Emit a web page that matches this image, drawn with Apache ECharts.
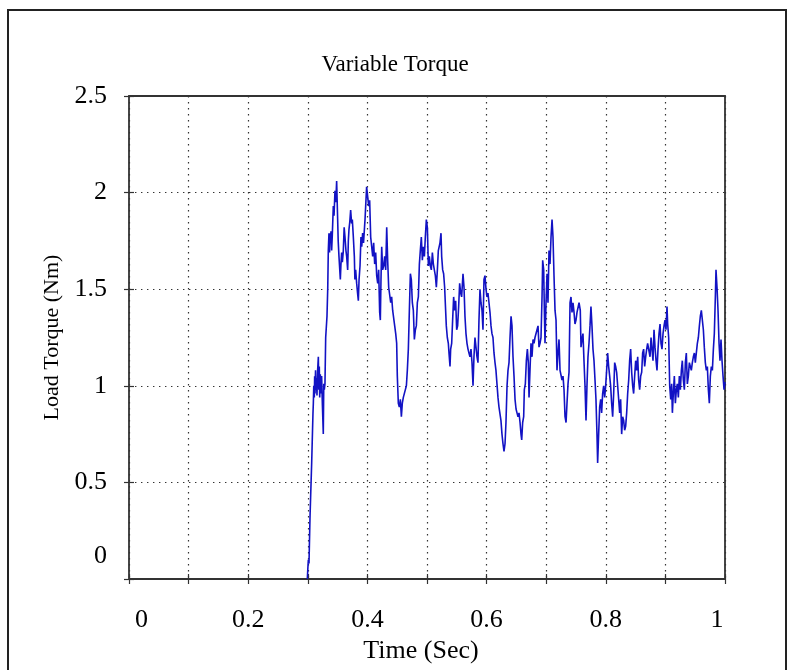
<!DOCTYPE html>
<html>
<head>
<meta charset="utf-8">
<script src="https://cdn.jsdelivr.net/npm/echarts@6/dist/echarts.min.js"></script>
<style>
  html, body { margin: 0; padding: 0; background: #fff; }
  #chart { width: 790px; height: 670px; }
</style>
</head>
<body>
<div id="chart"></div>
<script>
// Load torque samples [time (s), torque (Nm)], split into stretches of the run.
const onsetSamples = [
  [0.2992,0],[0.3000,0.05],[0.3009,0.10],[0.3020,0.08],[0.3037,0.32],[0.3065,0.60],[0.3087,0.86],[0.3093,0.91],
  [0.3100,1.00],[0.3109,0.94],[0.3115,1.05],[0.3121,0.96],[0.3130,1.08],[0.3137,0.98],[0.3145,1.04],[0.3154,0.95],
  [0.3165,1.08],[0.3177,1.15],[0.3185,0.98],[0.3193,1.10],[0.3200,0.94],[0.3210,1.06],[0.3220,0.96],[0.3232,1.05],
  [0.3245,0.90],[0.3260,0.75],[0.3268,1.01],[0.3277,0.98],[0.3288,1.01],[0.3300,1.25],[0.3322,1.36],[0.3335,1.51],
  [0.3344,1.70],[0.3355,1.79],[0.3365,1.69],[0.3372,1.79],[0.3380,1.74],[0.3389,1.80],[0.3400,1.70],[0.3411,1.78],
  [0.3428,1.93],[0.3440,1.88],[0.3456,2.01],[0.3470,1.95],[0.3484,2.06],[0.3501,1.86],[0.3510,1.75],[0.3523,1.67],
  [0.3546,1.55],[0.3555,1.62],[0.3568,1.69],[0.3580,1.64],[0.3596,1.70],[0.3610,1.82],[0.3624,1.77],[0.3640,1.70],
  [0.3652,1.67],[0.3669,1.60],[0.3680,1.75],[0.3691,1.81],[0.3705,1.85],[0.3719,1.91],[0.3735,1.84],[0.3747,1.86],
  [0.3764,1.77],[0.3781,1.67],[0.3790,1.55],[0.3803,1.60],[0.3820,1.53],[0.3835,1.48],[0.3848,1.44],[0.3860,1.55],
  [0.3876,1.62],[0.3892,1.77],[0.3905,1.72],[0.3920,1.79],[0.3935,1.74],[0.3948,1.74],[0.3960,1.86],[0.3971,1.93],
  [0.3987,2.03]
];
const samples040to052 = [
  [0.4005,2.04],[0.4022,1.93],[0.4038,1.96],[0.4055,1.77],[0.4072,1.72],[0.4089,1.67],[0.4105,1.74],[0.4122,1.63],
  [0.4139,1.69],[0.4156,1.57],[0.4173,1.53],[0.4189,1.60],[0.4206,1.38],[0.4217,1.34],[0.4228,1.55],[0.4240,1.72],
  [0.4256,1.60],[0.4273,1.62],[0.4290,1.67],[0.4307,1.60],[0.4324,1.82],[0.4340,1.65],[0.4357,1.51],[0.4374,1.50],
  [0.4391,1.43],[0.4407,1.46],[0.4424,1.39],[0.4441,1.38],[0.4458,1.31],[0.4475,1.27],[0.4491,1.22],[0.4502,1.05],
  [0.4519,0.91],[0.4536,0.89],[0.4553,0.93],[0.4570,0.84],[0.4586,0.91],[0.4603,0.94],[0.4620,0.93],[0.4637,0.98],
  [0.4654,1.00],[0.4670,1.08],[0.4687,1.19],[0.4704,1.39],[0.4721,1.58],[0.4737,1.55],[0.4754,1.43],[0.4771,1.39],
  [0.4788,1.24],[0.4805,1.29],[0.4821,1.31],[0.4838,1.43],[0.4855,1.46],[0.4872,1.63],[0.4888,1.70],[0.4905,1.77],
  [0.4922,1.65],[0.4939,1.72],[0.4956,1.67],[0.4972,1.77],[0.4989,1.86],[0.5006,1.82],[0.5023,1.62],[0.5039,1.67],
  [0.5056,1.62],[0.5073,1.60],[0.5090,1.69],[0.5107,1.63],[0.5123,1.60],[0.5140,1.57],[0.5157,1.51],[0.5174,1.60],
  [0.5190,1.70],[0.5207,1.69]
];
const samples052to063 = [
  [0.5218,1.74],[0.5235,1.79],[0.5246,1.67],[0.5263,1.60],[0.5279,1.58],[0.5296,1.51],[0.5307,1.43],[0.5324,1.31],
  [0.5341,1.25],[0.5358,1.22],[0.5369,1.17],[0.5386,1.10],[0.5397,1.19],[0.5414,1.22],[0.5430,1.34],[0.5447,1.46],
  [0.5464,1.39],[0.5481,1.44],[0.5498,1.29],[0.5514,1.31],[0.5531,1.41],[0.5548,1.53],[0.5565,1.48],[0.5581,1.46],
  [0.5604,1.58],[0.5621,1.51],[0.5637,1.36],[0.5654,1.27],[0.5671,1.22],[0.5688,1.19],[0.5704,1.17],[0.5721,1.15],
  [0.5738,1.19],[0.5755,1.12],[0.5772,1.00],[0.5788,1.15],[0.5805,1.25],[0.5822,1.20],[0.5839,1.15],[0.5855,1.12],
  [0.5872,1.34],[0.5889,1.50],[0.5906,1.43],[0.5923,1.39],[0.5939,1.29],[0.5956,1.55],[0.5973,1.57],[0.5990,1.50],
  [0.6006,1.46],[0.6023,1.48],[0.6040,1.43],[0.6057,1.38],[0.6074,1.31],[0.6090,1.27],[0.6107,1.25],[0.6124,1.17],
  [0.6141,1.12],[0.6157,1.08],[0.6174,1.01],[0.6191,0.94],[0.6208,0.89],[0.6225,0.88],[0.6241,0.82],[0.6258,0.75],
  [0.6275,0.70],[0.6292,0.66],[0.6309,0.70],[0.6325,0.81]
];
const samples063to075 = [
  [0.6343,1.00],[0.6359,1.08],[0.6376,1.12],[0.6393,1.25],[0.6410,1.36],[0.6426,1.31],[0.6443,1.15],[0.6460,1.05],
  [0.6477,0.93],[0.6494,0.88],[0.6510,0.86],[0.6527,0.84],[0.6544,0.86],[0.6561,0.81],[0.6577,0.75],[0.6589,0.72],
  [0.6605,0.81],[0.6622,0.84],[0.6633,0.98],[0.6650,1.01],[0.6667,1.13],[0.6684,1.19],[0.6700,1.12],[0.6712,0.94],
  [0.6728,1.08],[0.6745,1.22],[0.6762,1.15],[0.6779,1.24],[0.6796,1.22],[0.6812,1.25],[0.6829,1.24],[0.6846,1.29],
  [0.6863,1.31],[0.6879,1.20],[0.6896,1.22],[0.6913,1.25],[0.6930,1.46],[0.6941,1.65],[0.6958,1.60],[0.6969,1.39],
  [0.6980,1.22],[0.6997,1.43],[0.7014,1.58],[0.7030,1.43],[0.7047,1.70],[0.7064,1.63],[0.7081,1.77],[0.7098,1.86],
  [0.7114,1.77],[0.7131,1.57],[0.7148,1.39],[0.7165,1.34],[0.7181,1.08],[0.7198,1.17],[0.7215,1.24],[0.7232,1.08],
  [0.7249,1.07],[0.7265,1.03],[0.7282,1.05],[0.7299,0.98],[0.7316,0.84],[0.7333,0.81],[0.7349,0.91],[0.7366,1.01],
  [0.7383,1.07],[0.7400,1.43],[0.7416,1.46],[0.7433,1.38],[0.7450,1.43],[0.7467,1.38],[0.7483,1.32],[0.7500,1.34],
  [0.7517,1.38],[0.7534,1.39],[0.7551,1.43]
];
const samples075to087 = [
  [0.7572,1.39],[0.7584,1.20],[0.7600,1.24],[0.7617,1.27],[0.7634,1.13],[0.7651,1.00],[0.7668,0.82],[0.7684,1.00],
  [0.7701,1.15],[0.7718,1.22],[0.7735,1.31],[0.7751,1.41],[0.7768,1.31],[0.7785,1.19],[0.7802,1.13],[0.7819,1.03],
  [0.7835,0.93],[0.7852,0.75],[0.7863,0.60],[0.7880,0.75],[0.7897,0.89],[0.7914,0.93],[0.7930,0.86],[0.7947,0.96],
  [0.7964,1.00],[0.7981,0.94],[0.7998,1.00],[0.8014,1.08],[0.8031,1.17],[0.8048,1.10],[0.8065,1.05],[0.8081,1.00],
  [0.8098,0.91],[0.8115,0.84],[0.8132,0.96],[0.8149,1.12],[0.8165,1.10],[0.8182,1.07],[0.8199,1.00],[0.8216,0.93],
  [0.8233,0.86],[0.8249,0.93],[0.8266,0.75],[0.8283,0.84],[0.8300,0.82],[0.8316,0.77],[0.8333,0.79],[0.8350,0.86],
  [0.8367,0.96],[0.8384,1.03],[0.8400,1.13],[0.8417,1.19],[0.8434,1.07],[0.8451,1.00],[0.8467,0.96],[0.8484,1.05],
  [0.8501,1.13],[0.8518,1.08],[0.8535,1.15],[0.8551,1.03],[0.8568,0.98],[0.8585,1.05],[0.8602,1.07],[0.8618,1.17],
  [0.8635,1.19],[0.8652,1.10],[0.8669,1.15],[0.8686,1.19],[0.8702,1.22],[0.8719,1.22]
];
const samples087to100 = [
  [0.8742,1.15],[0.8759,1.25],[0.8775,1.19],[0.8792,1.13],[0.8809,1.29],[0.8826,1.20],[0.8843,1.13],[0.8859,1.08],
  [0.8876,1.19],[0.8893,1.27],[0.8910,1.32],[0.8926,1.22],[0.8943,1.19],[0.8960,1.27],[0.8977,1.31],[0.8993,1.34],
  [0.9010,1.29],[0.9027,1.41],[0.9038,1.32],[0.9055,1.25],[0.9072,1.00],[0.9089,0.93],[0.9105,1.01],[0.9117,0.86],
  [0.9133,0.96],[0.9150,1.05],[0.9167,0.91],[0.9184,0.98],[0.9200,1.01],[0.9217,0.94],[0.9234,1.05],[0.9251,0.98],
  [0.9268,1.08],[0.9284,1.13],[0.9301,1.03],[0.9318,0.98],[0.9335,1.12],[0.9351,1.17],[0.9368,1.01],[0.9385,1.05],
  [0.9402,1.12],[0.9419,1.13],[0.9435,1.08],[0.9452,1.12],[0.9469,1.15],[0.9486,1.17],[0.9502,1.12],[0.9519,1.17],
  [0.9536,1.22],[0.9553,1.25],[0.9570,1.31],[0.9586,1.36],[0.9603,1.39],[0.9620,1.38],[0.9637,1.29],[0.9653,1.20],
  [0.9670,1.12],[0.9687,1.08],[0.9704,1.10],[0.9721,0.98],[0.9737,0.91],[0.9754,1.05],[0.9771,1.10],[0.9788,1.08],
  [0.9805,1.19],[0.9821,1.27],[0.9838,1.46],[0.9849,1.60],[0.9866,1.51],[0.9883,1.39],[0.9900,1.22],[0.9916,1.13],
  [0.9933,1.24],[0.9950,1.13],[0.9967,1.05],[0.9984,0.98],[1.0000,1.02]
];

const xTickLabels = ['0', '0.2', '0.4', '0.6', '0.8', '1'];
const yTickLabels = ['0', '0.5', '1', '1.5', '2', '2.5'];

const torqueSeries = [].concat(onsetSamples, samples040to052, samples052to063,
  samples063to075, samples075to087, samples087to100);

const serif = '"Liberation Serif", "Times New Roman", Times, serif';
const ink = '#000';
const frameColor = '#333';
const dotted = { color: '#333', width: 1.2, type: [1.4, 4.6] };

function xLabel(v) {
  const k = Math.round(v * 10);
  if (k % 2 !== 0) return '';
  const text = xTickLabels[k / 2];
  if (k === 0) return '{first|' + text + '}';
  if (k === 10) return '{last|' + text + '}';
  return text;
}
function yLabel(v) {
  const k = Math.round(v * 2);
  const text = yTickLabels[k];
  if (k === 0) return '{low|' + text + '}';
  return text;
}

const chart = echarts.init(document.getElementById('chart'), null, { renderer: 'canvas' });
chart.setOption({
  animation: false,
  backgroundColor: '#fff',
  title: {
    text: 'Variable Torque',
    left: 'center',
    top: 48,
    textStyle: { fontFamily: serif, fontSize: 23, fontWeight: 'normal', color: ink }
  },
  graphic: [{
    type: 'rect',
    shape: { x: 8, y: 10, width: 778, height: 700 },
    style: { fill: 'none', stroke: '#222', lineWidth: 2 },
    silent: true
  }],
  grid: {
    left: 129, right: 65, top: 96, bottom: 91,
    show: true, borderColor: frameColor, borderWidth: 1.8, backgroundColor: '#fff'
  },
  xAxis: [{
    type: 'value', min: 0, max: 1, interval: 0.1, position: 'bottom',
    name: 'Time (Sec)', nameLocation: 'middle', nameGap: 55,
    nameTextStyle: { fontFamily: serif, fontSize: 26, color: ink, padding: [0, 12, 0, 0] },
    axisLine: { show: false },
    axisTick: { show: true, inside: true, length: 5, lineStyle: { color: frameColor, width: 1.2 } },
    splitLine: { show: true, lineStyle: dotted },
    axisLabel: {
      show: true, margin: 28, fontFamily: serif, fontSize: 26, color: ink,
      showMinLabel: true, showMaxLabel: true, formatter: xLabel,
      rich: {
        first: { fontFamily: serif, fontSize: 26, color: ink, padding: [0, 0, 0, 25] },
        last: { fontFamily: serif, fontSize: 26, color: ink, padding: [0, 16, 0, 0] }
      }
    }
  }, {
    type: 'value', min: 0, max: 1, interval: 0.1, position: 'top',
    axisLine: { show: false },
    axisTick: { show: true, inside: true, length: 5, lineStyle: { color: frameColor, width: 1.2 } },
    splitLine: { show: false },
    axisLabel: { show: false }
  }],
  yAxis: [{
    type: 'value', min: 0, max: 2.5, interval: 0.5, position: 'left',
    name: 'Load Torque (Nm)', nameLocation: 'middle', nameGap: 60, nameRotate: 90,
    nameTextStyle: { fontFamily: serif, fontSize: 22, color: ink },
    axisLine: { show: false },
    axisTick: { show: true, inside: true, length: 5, lineStyle: { color: frameColor, width: 1.2 } },
    splitLine: { show: true, lineStyle: dotted },
    axisLabel: {
      show: true, margin: 22, fontFamily: serif, fontSize: 26, color: ink,
      showMinLabel: true, showMaxLabel: true, formatter: yLabel,
      rich: {
        low: { fontFamily: serif, fontSize: 26, color: ink, padding: [0, 0, 46, 0] }
      }
    }
  }, {
    type: 'value', min: 0, max: 2.5, interval: 0.5, position: 'right',
    axisLine: { show: false },
    axisTick: { show: true, inside: true, length: 5, lineStyle: { color: frameColor, width: 1.2 } },
    splitLine: { show: false },
    axisLabel: { show: false }
  }],
  series: [{
    type: 'line',
    name: 'Load Torque',
    xAxisIndex: 0,
    yAxisIndex: 0,
    data: torqueSeries,
    showSymbol: false,
    symbol: 'none',
    smooth: false,
    lineStyle: { color: '#1212c4', width: 1.6 },
    z: 3
  }]
});
</script>
</body>
</html>
